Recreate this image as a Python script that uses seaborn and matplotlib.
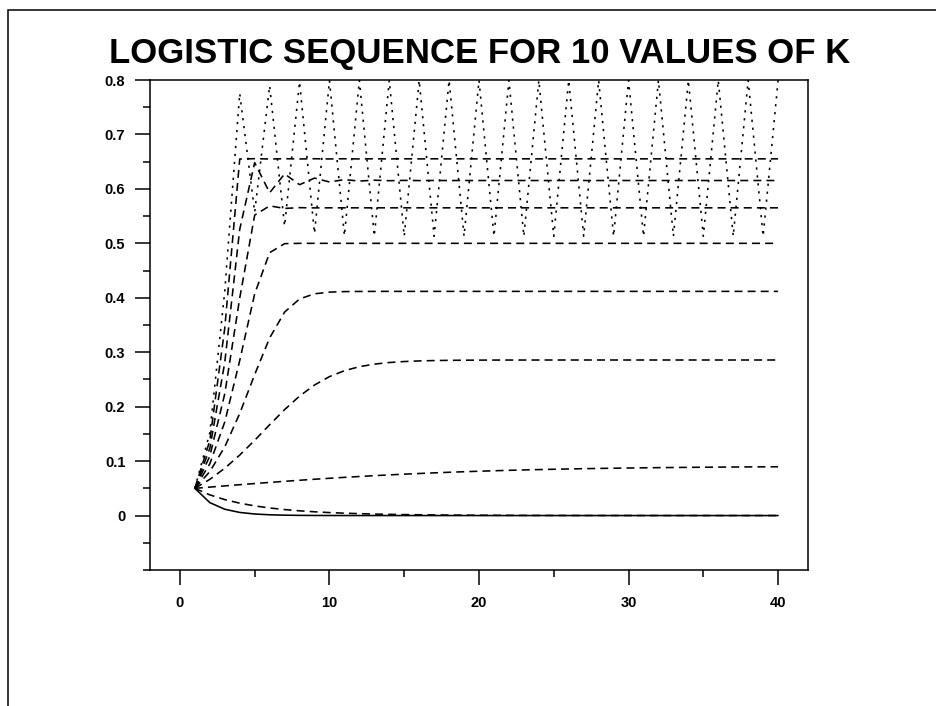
import matplotlib
matplotlib.use("Agg")
import matplotlib.pyplot as plt
import matplotlib.patches as mpatches
from matplotlib.ticker import FixedLocator, MultipleLocator, FixedFormatter
import seaborn as sns
import pandas as pd

# ---------------- data ----------------
n_steps = list(range(1, 41))
k_values = [0.5, 0.8, 1.1, 1.4, 1.7, 2.0, 2.3, 2.6, 2.9, 3.2]

seq_k05 = [0.05, 0.02375, 0.01159, 0.00573, 0.00285, 0.00142, 0.00071, 0.00035, 0.00018, 0.00009,
           0.00004, 0.00002, 0.00001, 0.00001, 0, 0, 0, 0, 0, 0,
           0, 0, 0, 0, 0, 0, 0, 0, 0, 0,
           0, 0, 0, 0, 0, 0, 0, 0, 0, 0]
seq_k08 = [0.05, 0.038, 0.02925, 0.02271, 0.01776, 0.01395, 0.01101, 0.00871, 0.00691, 0.00549,
           0.00437, 0.00348, 0.00277, 0.00221, 0.00177, 0.00141, 0.00113, 0.00090, 0.00072, 0.00058,
           0.00046, 0.00037, 0.00029, 0.00024, 0.00019, 0.00015, 0.00012, 0.00010, 0.00008, 0.00006,
           0.00005, 0.00004, 0.00003, 0.00003, 0.00002, 0.00002, 0.00001, 0.00001, 0.00001, 0.00001]
seq_k11 = [0.05, 0.05225, 0.05447, 0.05666, 0.05879, 0.06087, 0.06288, 0.06482, 0.06668, 0.06846,
           0.07015, 0.07175, 0.07326, 0.07468, 0.07602, 0.07726, 0.07842, 0.07950, 0.08050, 0.08142,
           0.08227, 0.08305, 0.08377, 0.08443, 0.08503, 0.08558, 0.08608, 0.08654, 0.08695, 0.08733,
           0.08768, 0.08799, 0.08827, 0.08853, 0.08876, 0.08897, 0.08916, 0.08933, 0.08949, 0.08963]
seq_k14 = [0.05, 0.0665, 0.08691, 0.11110, 0.13826, 0.16680, 0.19456, 0.21939, 0.23976, 0.25518,
           0.26609, 0.27340, 0.27812, 0.28108, 0.28290, 0.28402, 0.28469, 0.28510, 0.28534, 0.28549,
           0.28558, 0.28563, 0.28567, 0.28568, 0.28570, 0.28570, 0.28571, 0.28571, 0.28571, 0.28571,
           0.28571, 0.28571, 0.28571, 0.28571, 0.28571, 0.28571, 0.28571, 0.28571, 0.28571, 0.28571]
seq_k17 = [0.05, 0.08075, 0.12619, 0.18745, 0.25894, 0.32622, 0.37367, 0.39787, 0.40727, 0.41038,
           0.41134, 0.41164, 0.41173, 0.41176, 0.41176, 0.41176, 0.41176, 0.41176, 0.41176, 0.41176,
           0.41176, 0.41176, 0.41176, 0.41176, 0.41176, 0.41176, 0.41176, 0.41176, 0.41176, 0.41176,
           0.41176, 0.41176, 0.41176, 0.41176, 0.41176, 0.41176, 0.41176, 0.41176, 0.41176, 0.41176]
seq_k20 = [0.05, 0.095, 0.17195, 0.28477, 0.40735, 0.48284, 0.49941, 0.5, 0.5, 0.5,
           0.5, 0.5, 0.5, 0.5, 0.5, 0.5, 0.5, 0.5, 0.5, 0.5,
           0.5, 0.5, 0.5, 0.5, 0.5, 0.5, 0.5, 0.5, 0.5, 0.5,
           0.5, 0.5, 0.5, 0.5, 0.5, 0.5, 0.5, 0.5, 0.5, 0.5]
seq_k23 = [0.05, 0.10925, 0.22382, 0.39957, 0.55180, 0.56883, 0.56410, 0.56555, 0.56512, 0.56525,
           0.56521, 0.56522, 0.56522, 0.56522, 0.56522, 0.56522, 0.56522, 0.56522, 0.56522, 0.56522,
           0.56522, 0.56522, 0.56522, 0.56522, 0.56522, 0.56522, 0.56522, 0.56522, 0.56522, 0.56522,
           0.56522, 0.56522, 0.56522, 0.56522, 0.56522, 0.56522, 0.56522, 0.56522, 0.56522, 0.56522]
seq_k26 = [0.05, 0.1235, 0.28144, 0.52581, 0.64826, 0.59287, 0.62757, 0.60768, 0.61984, 0.61265,
           0.61702, 0.61441, 0.61597, 0.61503, 0.61560, 0.61526, 0.61546, 0.61534, 0.61541, 0.61537,
           0.61540, 0.61538, 0.61539, 0.61538, 0.61538, 0.61538, 0.61538, 0.61538, 0.61538, 0.61538,
           0.61538, 0.61538, 0.61538, 0.61538, 0.61538, 0.61538, 0.61538, 0.61538, 0.61538, 0.61538]
seq_k29 = [0.05, 0.13775, 0.34445, 0.65483, 0.65548, 0.65489, 0.65543, 0.65494, 0.65538, 0.65499,
           0.65534, 0.65502, 0.65531, 0.65505, 0.65528, 0.65507, 0.65526, 0.65509, 0.65524, 0.65511,
           0.65523, 0.65512, 0.65522, 0.65513, 0.65521, 0.65514, 0.65520, 0.65514, 0.65520, 0.65515,
           0.65520, 0.65515, 0.65519, 0.65515, 0.65519, 0.65516, 0.65519, 0.65516, 0.65518, 0.65516]
seq_k32 = [0.05, 0.152, 0.41247, 0.77549, 0.55714, 0.78956, 0.53171, 0.79678, 0.51816, 0.79895,
           0.51403, 0.79938, 0.51320, 0.79945, 0.51305, 0.79947, 0.51302, 0.79946, 0.51304, 0.79946,
           0.51304, 0.79946, 0.51304, 0.79946, 0.51304, 0.79946, 0.51304, 0.79946, 0.51304, 0.79946,
           0.51304, 0.79946, 0.51304, 0.79946, 0.51304, 0.79946, 0.51304, 0.79946, 0.51304, 0.79946]

series = [seq_k05, seq_k08, seq_k11, seq_k14, seq_k17, seq_k20, seq_k23, seq_k26, seq_k29, seq_k32]

x_ticks = [0, 10, 20, 30, 40]
x_tick_labels = ["0", "10", "20", "30", "40"]
y_ticks = [0, 0.1, 0.2, 0.3, 0.4, 0.5, 0.6, 0.7, 0.8]
y_tick_labels = ["0", "0.1", "0.2", "0.3", "0.4", "0.5", "0.6", "0.7", "0.8"]
title_text = "LOGISTIC SEQUENCE FOR 10 VALUES OF K"

# ---------------- long table ----------------
rows = []
for k, vals in zip(k_values, series):
    for n, v in zip(n_steps, vals):
        rows.append({"n": n, "x": v, "k": str(k)})
df = pd.DataFrame(rows)

# ---------------- style ----------------
sns.set_theme(style="white")
plt.rcParams["font.family"] = ["Liberation Sans", "DejaVu Sans"]
plt.rcParams["font.weight"] = "bold"

fig = plt.figure(figsize=(9.37, 7.06), dpi=100)
ax = fig.add_axes([150 / 937, 1 - 570 / 706, (808 - 150) / 937, (570 - 80) / 706])

dash_map = {}
for k in k_values:
    if k == 0.5:
        dash_map[str(k)] = ""
    elif k == 3.2:
        dash_map[str(k)] = (1.4, 3.6)
    else:
        dash_map[str(k)] = (5.0, 3.2)

sns.lineplot(data=df, x="n", y="x", style="k", dashes=dash_map, color="black",
             linewidth=1.15, legend=False, ax=ax, sort=True, estimator=None)

ax.set_xlim(-2, 42)
ax.set_ylim(-0.1, 0.8)
ax.xaxis.set_major_locator(FixedLocator(x_ticks))
ax.xaxis.set_major_formatter(FixedFormatter(x_tick_labels))
ax.xaxis.set_minor_locator(MultipleLocator(5))
ax.yaxis.set_major_locator(FixedLocator(y_ticks))
ax.yaxis.set_major_formatter(FixedFormatter(y_tick_labels))
ax.yaxis.set_minor_locator(MultipleLocator(0.05))

ax.set_xlabel("")
ax.set_ylabel("")

for sp in ax.spines.values():
    sp.set_visible(True)
    sp.set_color("black")
    sp.set_linewidth(1.1)

ax.tick_params(axis="both", which="major", direction="out", length=10.8, width=1.1,
               color="black", labelsize=10.5, bottom=True, left=True, top=False, right=False)
ax.tick_params(axis="both", which="minor", direction="out", length=5.2, width=1.1,
               color="black", bottom=True, left=True, top=False, right=False)
ax.tick_params(axis="x", which="major", pad=8)
ax.tick_params(axis="y", which="major", pad=7)
for lab in ax.get_xticklabels() + ax.get_yticklabels():
    lab.set_fontweight("bold")
    lab.set_color("black")

fig.text(480 / 937, 1 - 53 / 706, title_text, ha="center", va="center",
         fontsize=25, fontweight="bold", color="black")

frame = mpatches.Rectangle((8 / 937, -0.1), 1.2, 1 - 10 / 706 + 0.1,
                           transform=fig.transFigure, fill=False,
                           edgecolor="black", linewidth=1.1)
fig.patches.append(frame)

fig.savefig("out.png", dpi=100, facecolor="white")
